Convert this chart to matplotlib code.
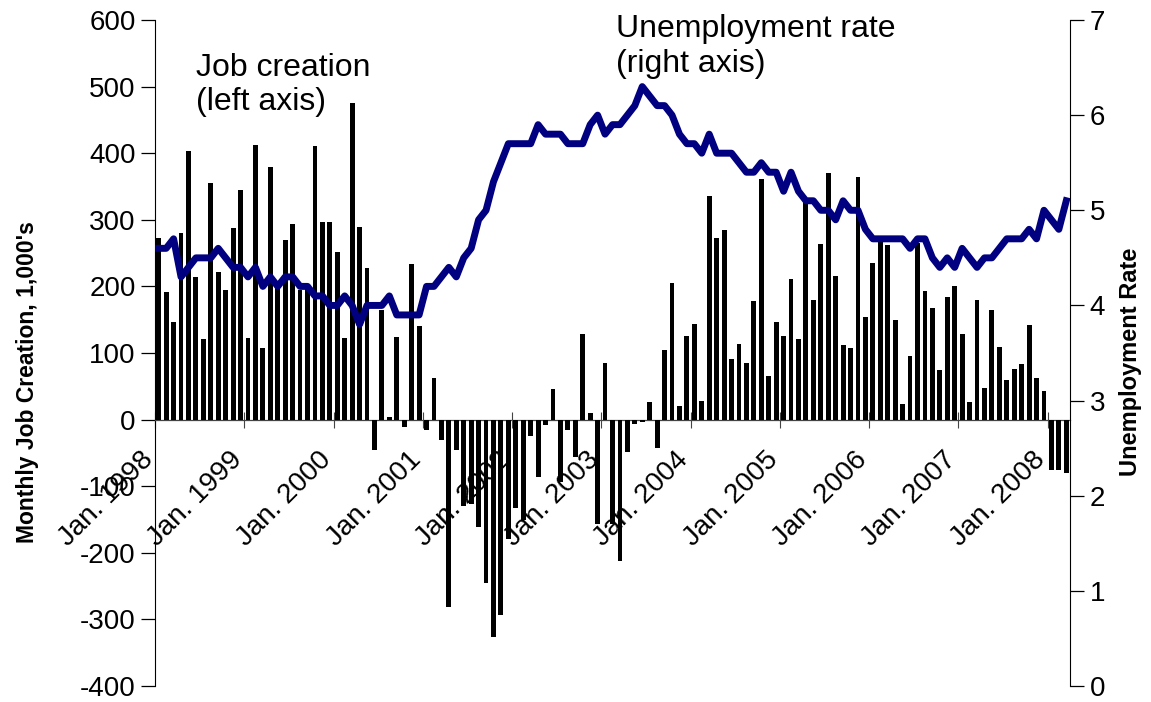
import matplotlib
matplotlib.use("Agg")
import matplotlib.pyplot as plt
import numpy as np

plt.rcParams['font.family'] = ['Liberation Sans', 'DejaVu Sans']
plt.rcParams['axes.unicode_minus'] = False

years = [1998, 1999, 2000, 2001, 2002, 2003, 2004, 2005, 2006, 2007, 2008]
tick_labels = ["Jan. %d" % y for y in years]

# monthly job creation, thousands (Jan 1998 - Mar 2008)
job_creation = [
    272, 191, 146, 280, 404, 214, 121, 355, 221, 195, 287, 345,    # 1998
    123, 413, 108, 379, 207, 269, 293, 194, 200, 411, 296, 296,    # 1999
    252, 123, 475, 289, 227, -46, 165, 4, 124, -11, 233, 140,      # 2000
    -16, 62, -30, -282, -45, -129, -126, -161, -245, -326, -294, -179,  # 2001
    -133, -151, -25, -86, -8, 46, -93, -16, -56, 128, 10, -157,   # 2002
    85, -157, -212, -49, -6, -3, 27, -43, 105, 205, 20, 126,       # 2003
    144, 28, 336, 272, 284, 91, 114, 85, 178, 361, 65, 146,        # 2004
    126, 211, 121, 327, 179, 263, 371, 215, 112, 107, 364, 154,    # 2005
    235, 268, 262, 149, 24, 96, 265, 193, 167, 75, 184, 201,       # 2006
    128, 27, 179, 48, 164, 109, 59, 76, 83, 142, 62, 43,           # 2007
    -76, -76, -80,                                                 # 2008
]

# unemployment rate, percent
unemployment_rate = [
    4.6, 4.6, 4.7, 4.3, 4.4, 4.5, 4.5, 4.5, 4.6, 4.5, 4.4, 4.4,
    4.3, 4.4, 4.2, 4.3, 4.2, 4.3, 4.3, 4.2, 4.2, 4.1, 4.1, 4.0,
    4.0, 4.1, 4.0, 3.8, 4.0, 4.0, 4.0, 4.1, 3.9, 3.9, 3.9, 3.9,
    4.2, 4.2, 4.3, 4.4, 4.3, 4.5, 4.6, 4.9, 5.0, 5.3, 5.5, 5.7,
    5.7, 5.7, 5.7, 5.9, 5.8, 5.8, 5.8, 5.7, 5.7, 5.7, 5.9, 6.0,
    5.8, 5.9, 5.9, 6.0, 6.1, 6.3, 6.2, 6.1, 6.1, 6.0, 5.8, 5.7,
    5.7, 5.6, 5.8, 5.6, 5.6, 5.6, 5.5, 5.4, 5.4, 5.5, 5.4, 5.4,
    5.2, 5.4, 5.2, 5.1, 5.1, 5.0, 5.0, 4.9, 5.1, 5.0, 5.0, 4.8,
    4.7, 4.7, 4.7, 4.7, 4.7, 4.6, 4.7, 4.7, 4.5, 4.4, 4.5, 4.4,
    4.6, 4.5, 4.4, 4.5, 4.5, 4.6, 4.7, 4.7, 4.7, 4.8, 4.7, 5.0,
    4.9, 4.8, 5.1,
]

W, H = 1151, 702
fig = plt.figure(figsize=(W / 100, H / 100), dpi=100)
ax = fig.add_axes([155 / W, 16 / H, 915 / W, 666 / H])

n = len(job_creation)
x = np.arange(n) + 0.5

ax.bar(x, job_creation, width=0.65, color="black", zorder=3)
ax.set_xlim(0, n)
ax.set_ylim(-400, 600)
ax.set_yticks(range(-400, 601, 100))
ax.spines["top"].set_visible(False)
ax.spines["right"].set_visible(False)
ax.spines["bottom"].set_position(("data", 0))
ax.spines["bottom"].set_color("#444444")
ax.spines["bottom"].set_linewidth(0.9)
ax.set_xticks(np.arange(0, n, 12))
ax.set_xticklabels([])
ax.tick_params(axis="x", direction="inout", length=11, width=0.8, color="#444444")
ax.tick_params(axis="y", direction="out", length=10, width=0.9, labelsize=20, pad=4)

for pos, lab in zip(np.arange(0, n, 12), tick_labels):
    ax.annotate(lab, xy=(pos, 0), xycoords="data", xytext=(-6, -36),
                textcoords="offset pixels", ha="right", va="center",
                rotation=45, rotation_mode="anchor", fontsize=20, zorder=1)

ax2 = ax.twinx()
ax2.plot(x, unemployment_rate, color="#000080", lw=5, zorder=4)
ax2.set_ylim(0, 7)
ax2.set_yticks(range(0, 8))
for s in ["top", "left", "bottom"]:
    ax2.spines[s].set_visible(False)
ax2.tick_params(axis="y", direction="out", length=10, width=0.9, labelsize=20, pad=4)

fig.text(28 / W, 1 - 382 / H, "Monthly Job Creation, 1,000's", rotation=90,
         ha="center", va="center", fontsize=16.5, fontweight="bold")
fig.text(1130 / W, 1 - 362 / H, "Unemployment Rate", rotation=90,
         ha="center", va="center", fontsize=17, fontweight="bold")

fig.text(196 / W, 1 - 76 / H, "Job creation", fontsize=23, va="baseline")
fig.text(196 / W, 1 - 110 / H, "(left axis)", fontsize=23, va="baseline")
fig.text(616 / W, 1 - 37 / H, "Unemployment rate", fontsize=23, va="baseline")
fig.text(616 / W, 1 - 72 / H, "(right axis)", fontsize=23, va="baseline")

fig.savefig("out.png", dpi=100)
